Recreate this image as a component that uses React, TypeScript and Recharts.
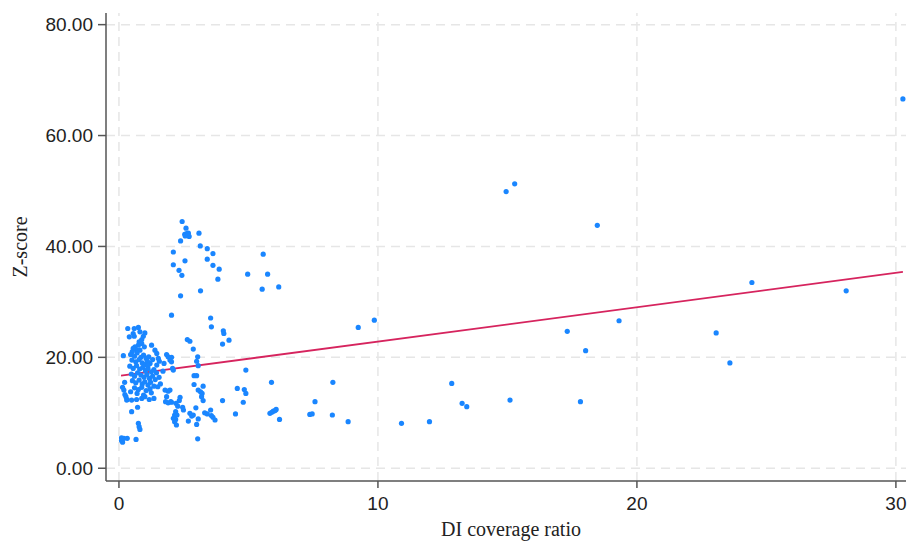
import React from 'react';
import { ScatterChart, Scatter, XAxis, YAxis, ReferenceLine, Label } from 'recharts';

// DI coverage ratio (x) and Z-score (y) for each observation
const coverage: number[] = [
  // low-left
  0.10, 0.10, 0.14, 0.19, 0.32, 0.66, 0.75, 0.78, 0.81, 0.49, 0.72,
  // left column
  0.17, 0.14, 0.19, 0.23, 0.27, 0.30, 0.22, 0.32, 0.49, 0.68, 0.88, 1.00, 1.17, 1.35,
  // upper dense
  0.34, 0.59, 0.75, 0.81, 0.55, 0.59, 0.94, 1.00, 0.40, 0.88, 0.78, 0.88, 0.75, 0.62, 0.68, 0.55, 0.51, 0.81, 0.98, 1.26, 1.39, 1.46,
  // middle dense
  0.45, 0.60, 0.70, 0.85, 0.95, 1.05, 1.15, 0.50, 0.65, 0.78, 0.90, 1.00, 1.10, 1.20, 1.30,
  0.42, 0.55, 0.68, 0.80, 0.92, 1.02, 1.12, 1.25, 1.35, 1.45, 0.48, 0.60, 0.72, 0.85, 0.97,
  1.08, 1.18, 1.30, 1.40, 1.55, 0.52, 0.65, 0.78, 0.90, 1.00, 1.12, 1.22, 1.35, 0.60, 0.75,
  0.88, 1.05, 1.20, 1.50, 0.45, 0.70, 0.95, 1.25,
  // x 1.5 - 2.1
  1.52, 1.56, 1.74, 1.84, 1.90, 1.97, 2.03, 2.07, 1.13, 1.46, 1.78, 1.90, 1.84, 1.80, 1.90, 2.00, 1.60, 1.70,
  // x 2 - 2.5
  2.03, 2.03, 2.10, 1.97, 2.03, 2.20, 2.27, 2.46, 2.49, 2.19, 2.15, 2.24, 2.19, 2.15, 2.22, 2.10, 2.36, 2.33,
  // x 2.6 - 5
  2.64, 2.74, 2.87, 3.04, 3.00, 3.06, 2.90, 3.00, 2.90, 3.25, 3.06, 3.15, 3.21, 3.19, 3.25, 2.97,
  2.74, 2.81, 2.87, 3.31, 3.41, 3.54, 3.57, 3.63, 3.71, 3.06, 3.00, 2.68, 3.04, 3.54, 3.57, 4.03,
  4.05, 4.00, 4.25, 4.00, 4.57, 4.84, 4.90, 4.80, 4.50, 4.90,
  // upper cluster
  2.44, 2.59, 2.54, 2.61, 2.68, 2.71, 2.56, 3.09, 2.38, 2.10, 3.14, 3.41, 3.63, 2.55, 3.41, 2.10,
  3.63, 2.32, 3.87, 2.43, 4.97, 3.82, 3.15, 2.38,
  // right side
  5.57, 5.74, 5.53, 6.17, 5.89, 8.26, 7.57, 5.83, 5.90, 5.96, 6.03, 6.07, 6.20, 7.37, 7.46, 8.24,
  8.85, 9.24, 9.86, 10.91, 11.99, 12.85, 13.25, 13.43, 14.95, 15.28, 15.10, 17.31, 17.82, 18.02,
  18.47, 19.31, 23.06, 23.59, 24.44, 28.08, 30.27,
];

const zscore: number[] = [
  5.5, 5.0, 4.7, 5.4, 5.4, 5.2, 8.1, 7.5, 7.0, 10.2, 11.0,
  20.3, 14.6, 14.1, 13.3, 12.9, 12.3, 15.5, 12.4, 12.3, 12.4, 12.6, 12.9, 12.4, 12.6,
  25.2, 25.2, 25.4, 24.6, 24.3, 23.8, 23.8, 24.4, 23.7, 23.2, 22.8, 22.5, 22.2, 21.9, 21.3, 21.6, 21.0, 21.3, 21.9, 22.2, 21.3, 20.7,
  20.5, 20.2, 20.8, 20.0, 20.4, 19.8, 20.1, 19.5, 19.2, 19.6, 19.0, 18.7, 19.3, 18.9, 19.6,
  18.4, 18.0, 18.5, 17.9, 18.2, 17.6, 18.0, 17.4, 17.8, 17.2, 17.0, 16.6, 17.2, 16.8, 16.4,
  16.9, 16.2, 16.6, 16.0, 16.4, 15.8, 15.4, 15.9, 15.2, 15.6, 15.0, 15.5, 14.8, 14.5, 14.2,
  14.6, 14.0, 14.3, 14.7, 13.8, 13.5, 13.2, 13.6,
  19.8, 19.3, 18.9, 20.5, 20.1, 19.5, 19.2, 18.0, 18.6, 18.6, 14.1, 13.9, 12.9, 12.0, 11.8, 12.0, 15.2, 17.5,
  27.6, 20.0, 17.7, 14.1, 11.9, 11.7, 11.2, 11.0, 10.5, 10.2, 9.6, 9.6, 8.8, 8.4, 7.8, 9.0, 12.8, 12.2,
  23.2, 22.9, 21.5, 20.1, 19.3, 18.5, 16.7, 16.7, 15.1, 14.8, 14.1, 13.8, 13.5, 12.9, 12.2, 10.9,
  9.9, 9.4, 9.6, 10.0, 9.8, 10.5, 9.5, 9.2, 8.7, 8.9, 7.9, 8.5, 5.3, 27.1, 25.5, 24.8,
  24.3, 22.4, 23.1, 12.2, 14.4, 14.2, 13.5, 11.9, 9.8, 17.7,
  44.5, 43.3, 42.2, 42.3, 42.4, 41.8, 41.9, 42.4, 41.0, 39.0, 40.1, 39.6, 38.7, 37.4, 37.7, 36.7,
  36.6, 35.7, 35.9, 34.8, 35.0, 34.1, 32.0, 31.1,
  38.6, 35.0, 32.3, 32.7, 15.5, 15.5, 12.0, 9.9, 10.1, 10.3, 10.4, 10.6, 8.8, 9.7, 9.8, 9.6,
  8.4, 25.4, 26.7, 8.1, 8.4, 15.3, 11.7, 11.1, 49.9, 51.3, 12.3, 24.7, 12.0, 21.2,
  43.8, 26.6, 24.4, 19.0, 33.5, 32.0, 66.6,
];

const xTicks = [0, 10, 20, 30];
const yTicks = [0, 20, 40, 60, 80];

// linear fit endpoints (fitted values at min and max coverage)
const fitX = [0.08, 30.27];
const fitY = [16.7, 35.4];

const points = coverage.map((x, i) => ({ x, y: zscore[i] }));

const DOT = '#1a86ff';
const AXIS = '#555555';
const GRID = '#e6e6e6';
const sans = 'Liberation Sans, Arial, sans-serif';
const serif = 'Liberation Serif, Times New Roman, serif';

const Dot = (props: any) => <circle cx={props.cx} cy={props.cy} r={2.6} fill={DOT} />;

const XTitle = () => (
  <text x={511} y={536} textAnchor="middle" fontFamily={serif} fontSize={20} fill="#222">
    DI coverage ratio
  </text>
);

const YTitle = () => (
  <text x={27} y={247} transform="rotate(-90 27 247)" textAnchor="middle" fontFamily={serif} fontSize={20} fill="#222">
    Z-score
  </text>
);

export default function App() {
  return (
    <div style={{ position: 'absolute', left: 0, top: 0, background: '#fff' }}>
      <ScatterChart width={907} height={542} margin={{ top: 13, right: 1, bottom: 0, left: 0 }}>
        <XAxis
          type="number"
          dataKey="x"
          domain={[-0.5, 30.39]}
          ticks={xTicks}
          allowDataOverflow
          interval={0}
          height={61}
          tickSize={7}
          tickMargin={9}
          tick={{ fill: '#222', fontSize: 19, fontFamily: sans }}
          axisLine={{ stroke: AXIS, strokeWidth: 1.5 }}
          tickLine={{ stroke: AXIS, strokeWidth: 1.5 }}
        >
          <Label content={XTitle} />
        </XAxis>
        <YAxis
          type="number"
          dataKey="y"
          domain={[-2.3, 82.1]}
          ticks={yTicks}
          allowDataOverflow
          interval={0}
          width={106}
          tickSize={8}
          tickMargin={5}
          tickFormatter={(v: number) => v.toFixed(2)}
          tick={{ fill: '#222', fontSize: 19, fontFamily: sans }}
          axisLine={{ stroke: AXIS, strokeWidth: 1.5 }}
          tickLine={{ stroke: AXIS, strokeWidth: 1.5 }}
        >
          <Label content={YTitle} />
        </YAxis>
        {yTicks.map((t) => (
          <ReferenceLine key={'h' + t} y={t} stroke={GRID} strokeDasharray="9 6" strokeWidth={1.5} />
        ))}
        {xTicks.map((t) => (
          <ReferenceLine key={'v' + t} x={t} stroke={GRID} strokeDasharray="9 6" strokeWidth={1.5} />
        ))}
        <Scatter data={points} shape={Dot} isAnimationActive={false} />
        <ReferenceLine
          segment={[
            { x: fitX[0], y: fitY[0] },
            { x: fitX[1], y: fitY[1] },
          ]}
          stroke="#d6245e"
          strokeWidth={1.8}
          ifOverflow="visible"
        />
      </ScatterChart>
    </div>
  );
}
